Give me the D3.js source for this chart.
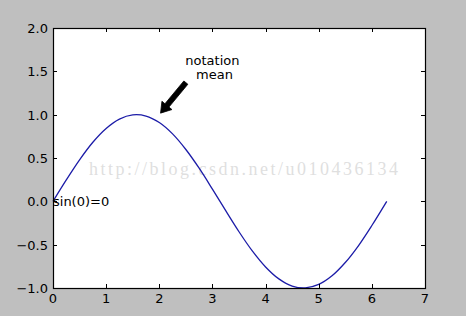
<!DOCTYPE html>
<html>
<head>
<meta charset="utf-8">
<script src="https://cdn.jsdelivr.net/npm/d3@7"></script>
<style>
  body { margin: 0; background: #bfbfbf; }
  svg { display: block; }
  text { font-family: "DejaVu Sans", sans-serif; }
</style>
</head>
<body>
<div id="chart"></div>
<script>
const xValues = [0, 0.25, 0.5, 0.75, 1.0, 1.25, 1.5, 1.75, 2.0, 2.25, 2.5, 2.75, 3.0,
  3.25, 3.5, 3.75, 4.0, 4.25, 4.5, 4.75, 5.0, 5.25, 5.5, 5.75, 6.0, 6.28];
const yValues = [0, 0.247, 0.479, 0.682, 0.841, 0.949, 0.997, 0.984, 0.909, 0.778, 0.598, 0.382, 0.141,
  -0.108, -0.351, -0.572, -0.757, -0.895, -0.978, -0.999, -0.959, -0.859, -0.706, -0.510, -0.279, 0];
const xTicks = [0, 1, 2, 3, 4, 5, 6, 7];
const yTicks = [-1.0, -0.5, 0.0, 0.5, 1.0, 1.5, 2.0];
const annotLines = ['notation', ' mean'];
const annotTextAt = [3.0, 1.5];
const arrowTip = [2, 1];
const arrowTail = [2.5, 1.37];
const sinLabel = 'sin(0)=0';
const sinLabelAt = [0, 0];
const watermark = 'http://blog.csdn.net/u010436134';

const width = 466;
const height = 316;
const margin = { top: 28, right: 41, bottom: 28, left: 53 };

const svg = d3.select('#chart').append('svg')
  .attr('width', width)
  .attr('height', height);

const x = d3.scaleLinear().domain([0, 7]).range([margin.left, width - margin.right]);
const y = d3.scaleLinear().domain([-1, 2]).range([height - margin.bottom, margin.top]);

// plot face
svg.append('rect')
  .attr('x', x(0)).attr('y', y(2))
  .attr('width', x(7) - x(0)).attr('height', y(-1) - y(2))
  .attr('fill', '#fff');

// watermark
svg.append('text')
  .attr('x', 89).attr('y', 175)
  .attr('textLength', 309)
  .attr('lengthAdjust', 'spacing')
  .style('font-family', '"Liberation Serif", serif')
  .style('font-size', '18px')
  .attr('fill', '#dfdfdf')
  .text(watermark);

// the curve
const pts = xValues.map((d, i) => [d, yValues[i]]);
const line = d3.line()
  .x(d => x(d[0]))
  .y(d => y(d[1]))
  .curve(d3.curveCatmullRom);
svg.append('path')
  .datum(pts)
  .attr('d', line)
  .attr('fill', 'none')
  .attr('stroke', '#1c1ca8')
  .attr('stroke-width', 1.3);

// inward ticks on all sides
const tickLen = 4;
const ticks = svg.append('g').attr('stroke', '#000').attr('stroke-width', 1);
xTicks.forEach(function (t) {
  const px = Math.round(x(t)) + 0.5;
  ticks.append('line').attr('x1', px).attr('x2', px).attr('y1', y(-1)).attr('y2', y(-1) - tickLen);
  ticks.append('line').attr('x1', px).attr('x2', px).attr('y1', y(2)).attr('y2', y(2) + tickLen);
});
yTicks.forEach(function (t) {
  const py = Math.round(y(t)) + 0.5;
  ticks.append('line').attr('x1', x(0)).attr('x2', x(0) + tickLen).attr('y1', py).attr('y2', py);
  ticks.append('line').attr('x1', x(7)).attr('x2', x(7) - tickLen).attr('y1', py).attr('y2', py);
});

// spine
svg.append('rect')
  .attr('x', Math.round(x(0)) + 0.5).attr('y', Math.round(y(2)) + 0.5)
  .attr('width', Math.round(x(7) - x(0))).attr('height', Math.round(y(-1) - y(2)))
  .attr('fill', 'none')
  .attr('stroke', '#000')
  .attr('stroke-width', 1.2);

// tick labels
svg.append('g').selectAll('text')
  .data(xTicks)
  .join('text')
  .attr('x', d => x(d))
  .attr('y', y(-1) + 15)
  .attr('text-anchor', 'middle')
  .style('font-size', '13px')
  .text(d => d);

svg.append('g').selectAll('text')
  .data(yTicks)
  .join('text')
  .attr('x', x(0) - 5)
  .attr('y', d => y(d) + 5)
  .attr('text-anchor', 'end')
  .style('font-size', '13px')
  .text(d => (d < 0 ? '\u2212' : '') + Math.abs(d).toFixed(1));

// sin(0)=0 label
svg.append('text')
  .attr('x', x(sinLabelAt[0]))
  .attr('y', y(sinLabelAt[1]) + 5)
  .style('font-size', '13px')
  .text(sinLabel);

// annotation text
svg.append('text')
  .attr('x', x(annotTextAt[0]))
  .attr('y', 65)
  .attr('text-anchor', 'middle')
  .style('font-size', '13px')
  .style('white-space', 'pre')
  .selectAll('tspan')
  .data(annotLines)
  .join('tspan')
  .attr('x', x(annotTextAt[0]))
  .attr('dy', (d, i) => (i === 0 ? 0 : 14))
  .text(d => d);

// annotation arrow (fancy arrow with shaft and head)
const tip = [x(arrowTip[0]), y(arrowTip[1])];
const tail = [x(arrowTail[0]), y(arrowTail[1])];
const dx = tail[0] - tip[0];
const dy = tail[1] - tip[1];
const len = Math.sqrt(dx * dx + dy * dy);
const ux = dx / len;
const uy = dy / len;
const t0 = [tip[0] + ux * 2, tip[1] + uy * 2];
const shaftW = 2.6;
const headW = 6.5;
const headL = 10;
const nx = -uy;
const ny = ux;
const hb = [t0[0] + ux * headL, t0[1] + uy * headL];
const arrowPts = [
  t0,
  [hb[0] + nx * headW, hb[1] + ny * headW],
  [hb[0] + nx * shaftW, hb[1] + ny * shaftW],
  [tail[0] + nx * shaftW, tail[1] + ny * shaftW],
  [tail[0] - nx * shaftW, tail[1] - ny * shaftW],
  [hb[0] - nx * shaftW, hb[1] - ny * shaftW],
  [hb[0] - nx * headW, hb[1] - ny * headW]
];
svg.append('polygon')
  .attr('points', arrowPts.map(p => p.join(',')).join(' '))
  .attr('fill', '#000')
  .attr('stroke', '#000')
  .attr('stroke-width', 0.8);
</script>
</body>
</html>
